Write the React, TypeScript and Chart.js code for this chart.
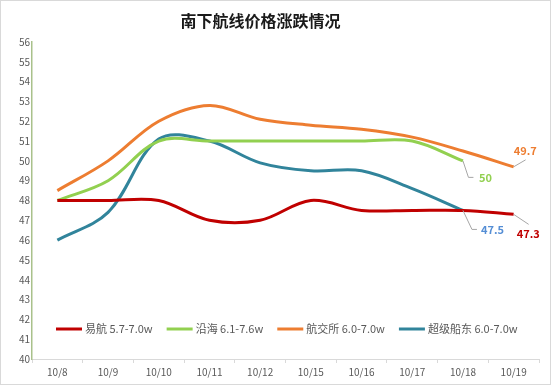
import React, { useEffect, useRef } from "react";
import { Chart, registerables } from "chart.js";

Chart.register(...registerables);

const categories = ["10/8", "10/9", "10/10", "10/11", "10/12", "10/15", "10/16", "10/17", "10/18", "10/19"];
const yihang = [48, 48, 48, 47, 47, 48, 47.5, 47.5, 47.5, 47.3];
const yanhai = [48, 49, 51, 51, 51, 51, 51, 51, 50, null];
const hangjiaosuo = [48.5, 50, 52, 52.8, 52.1, 51.8, 51.6, 51.2, 50.5, 49.7];
const chaoji = [46, 47.4, 51.1, 51, 49.9, 49.5, 49.5, 48.6, 47.5, null];
const seriesNames = ["易航 5.7-7.0w", "沿海 6.1-7.6w", "航交所 6.0-7.0w", "超级船东 6.0-7.0w"];
const colors = ["#c00000", "#92d050", "#ed7d31", "#31849b"];
const title = "南下航线价格涨跌情况";
const FONT = "'Noto Sans CJK SC', 'Noto Sans', sans-serif";

const overlayPlugin = {
  id: "overlay",
  afterDraw(chart: any) {
    const ctx = chart.ctx;
    ctx.save();
    // title
    ctx.fillStyle = "#1a1a1a";
    ctx.font = `bold 16px ${FONT}`;
    ctx.textAlign = "center";
    ctx.textBaseline = "middle";
    ctx.fillText(title, 259.5, 20);

    // legend
    const ly = 328;
    let lx = 55;
    ctx.font = `11px ${FONT}`;
    ctx.textAlign = "left";
    seriesNames.forEach((name, i) => {
      ctx.strokeStyle = colors[i];
      ctx.lineWidth = 3;
      ctx.beginPath();
      ctx.moveTo(lx, ly);
      ctx.lineTo(lx + 26, ly);
      ctx.stroke();
      ctx.fillStyle = "#595959";
      ctx.fillText(name, lx + 29, ly);
      lx += 29 + ctx.measureText(name).width + 14;
    });

    // end labels
    const pt = (ds: number, idx: number) => chart.getDatasetMeta(ds).data[idx];
    const labels = [
      { ds: 2, idx: 9, text: "49.7", color: "#ed7d31", path: [[0, 0], [12, -7]], tx: 0, ty: -16, align: "left" },
      { ds: 1, idx: 8, text: "50", color: "#92d050", path: [[0, 0], [5.5, 16.5], [10.5, 16.5]], tx: 16, ty: 16.5, align: "left" },
      { ds: 3, idx: 8, text: "47.5", color: "#558ed5", path: [[0, 0], [9, 19], [14, 19]], tx: 18, ty: 19, align: "left" },
      { ds: 0, idx: 9, text: "47.3", color: "#c00000", path: [[0, 0], [15, 10]], tx: 3, ty: 19, align: "left" },
    ];
    ctx.font = `bold 11px ${FONT}`;
    labels.forEach((l) => {
      const p = pt(l.ds, l.idx);
      if (!p) return;
      ctx.strokeStyle = "#a6a6a6";
      ctx.lineWidth = 1;
      ctx.beginPath();
      l.path.forEach(([dx, dy], k) => {
        if (k === 0) ctx.moveTo(p.x + dx, p.y + dy);
        else ctx.lineTo(p.x + dx, p.y + dy);
      });
      ctx.stroke();
      ctx.fillStyle = l.color;
      ctx.textAlign = l.align as CanvasTextAlign;
      ctx.textBaseline = "middle";
      ctx.fillText(l.text, p.x + l.tx, p.y + l.ty);
    });
    ctx.restore();
  },
};

export default function App() {
  const ref = useRef<HTMLCanvasElement>(null);
  useEffect(() => {
    document.body.style.margin = "0";
    const series = [yihang, yanhai, hangjiaosuo, chaoji];
    const chart = new Chart(ref.current!, {
      type: "line",
      data: {
        labels: categories,
        datasets: series.map((d, i) => ({
          label: seriesNames[i],
          data: d,
          borderColor: colors[i],
          backgroundColor: colors[i],
          borderWidth: 3,
          pointRadius: 0,
          tension: 0.35,
          fill: false,
        })),
      },
      options: {
        responsive: false,
        animation: false,
        layout: { padding: { top: 41, right: 11, left: 0, bottom: 0 } },
        plugins: {
          legend: { display: false },
          title: { display: false },
          tooltip: { enabled: false },
        },
        scales: {
          x: {
            offset: true,
            grid: { display: true, drawOnChartArea: false, drawTicks: true, tickLength: 4, color: "#d9d9d9", offset: true },
            border: { display: true, color: "#d9d9d9", width: 1 },
            ticks: { color: "#595959", font: { size: 10, family: FONT }, padding: 3, maxRotation: 0, autoSkip: false },
            afterFit: (s: any) => { s.height = 25; },
          },
          y: {
            min: 40,
            max: 56,
            grid: { display: false, drawTicks: false, tickLength: 0 },
            border: { display: true, color: "#a9c18b", width: 1.5 },
            ticks: { stepSize: 1, color: "#595959", font: { size: 10, family: FONT }, padding: 2 },
            afterFit: (s: any) => { s.width = 31; },
          },
        },
      },
      plugins: [overlayPlugin],
    });
    return () => chart.destroy();
  }, []);
  return (
    <div
      style={{
        position: "absolute",
        left: 0,
        top: 0,
        width: 551,
        height: 385,
        boxSizing: "border-box",
        border: "1px solid #d9d9d9",
        background: "#fff",
      }}
    >
      <canvas ref={ref} width={549} height={383} style={{ display: "block" }} />
    </div>
  );
}
